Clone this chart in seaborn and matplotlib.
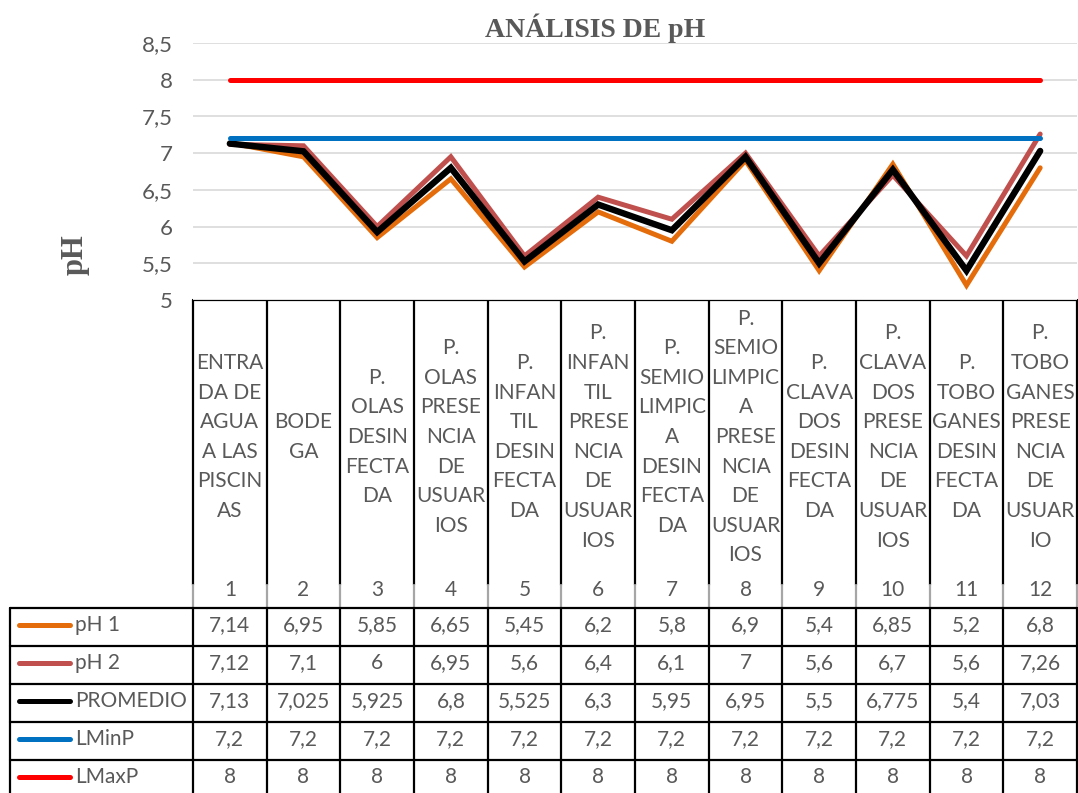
import numpy as np
import pandas as pd
import matplotlib.pyplot as plt
import seaborn as sns

# datos
categorias = ["ENTRA\nDA DE\nAGUA\nA LAS\nPISCIN\nAS", "BODE\nGA",
              "P.\nOLAS\nDESIN\nFECTA\nDA", "P.\nOLAS\nPRESE\nNCIA\nDE\nUSUAR\nIOS",
              "P.\nINFAN\nTIL\nDESIN\nFECTA\nDA", "P.\nINFAN\nTIL\nPRESE\nNCIA\nDE\nUSUAR\nIOS",
              "P.\nSEMIO\nLIMPIC\nA\nDESIN\nFECTA\nDA", "P.\nSEMIO\nLIMPIC\nA\nPRESE\nNCIA\nDE\nUSUAR\nIOS",
              "P.\nCLAVA\nDOS\nDESIN\nFECTA\nDA", "P.\nCLAVA\nDOS\nPRESE\nNCIA\nDE\nUSUAR\nIOS",
              "P.\nTOBO\nGANES\nDESIN\nFECTA\nDA", "P.\nTOBO\nGANES\nPRESE\nNCIA\nDE\nUSUAR\nIO"]
numeros = list(range(1, 13))
ph1 = [7.14, 6.95, 5.85, 6.65, 5.45, 6.2, 5.8, 6.9, 5.4, 6.85, 5.2, 6.8]
ph2 = [7.12, 7.1, 6, 6.95, 5.6, 6.4, 6.1, 7, 5.6, 6.7, 5.6, 7.26]
promedio = [7.13, 7.025, 5.925, 6.8, 5.525, 6.3, 5.95, 6.95, 5.5, 6.775, 5.4, 7.03]
lminp = [7.2] * 12
lmaxp = [8] * 12
series = ["pH 1", "pH 2", "PROMEDIO", "LMinP", "LMaxP"]
colores = {"pH 1": "#E46C0A", "pH 2": "#C0504D", "PROMEDIO": "#000000",
           "LMinP": "#0070C0", "LMaxP": "#FF0000"}
grosor = {"pH 1": 3.6, "pH 2": 3.6, "PROMEDIO": 4.6, "LMinP": 3.6, "LMaxP": 3.6}

valores = {"pH 1": ph1, "pH 2": ph2, "PROMEDIO": promedio, "LMinP": lminp, "LMaxP": lmaxp}
df = pd.concat([pd.DataFrame({"n": numeros, "pH": v, "serie": k}) for k, v in valores.items()])

gris = "#595959"
fuente = ["Lato", "DejaVu Sans"]
sns.set_theme(style="white")
plt.rcParams['font.family'] = fuente

W, H = 1078, 793
fig = plt.figure(figsize=(W / 100, H / 100), dpi=100)
x0, x1, ytop, ybot = 193, 1077, 43, 300
ax = fig.add_axes([x0 / W, 1 - ybot / H, (x1 - x0) / W, (ybot - ytop) / H])

for s in series:
    sns.lineplot(data=df[df["serie"] == s], x="n", y="pH", color=colores[s],
                 linewidth=grosor[s], ax=ax, legend=False,
                 solid_capstyle="round", solid_joinstyle="miter")

ax.set_xlim(0.5, 12.5)
ax.set_ylim(5, 8.5)
yt = np.arange(5, 8.51, 0.5)
ax.set_yticks(yt)
ax.set_yticklabels([f"{v:g}".replace(".", ",") for v in yt], color=gris, fontsize=16)
ax.tick_params(axis="y", length=0, pad=14.5)
ax.set_xticks([])
ax.set_xlabel("")
ax.set_ylabel("")
ax.grid(axis="y", color="#D9D9D9", linewidth=1.2)
for sp in ax.spines.values():
    sp.set_visible(False)

fig.text(595 / W, 1 - 28 / H, "ANÁLISIS DE pH", ha="center", va="center",
         fontsize=20, fontweight="bold", color=gris, family="Liberation Serif")
fig.text(75 / W, 1 - 255 / H, "pH", ha="center", va="center", rotation=90,
         fontsize=22, fontweight="bold", color=gris, family="Liberation Serif")

# tabla de datos en coordenadas de pixel
tab = fig.add_axes([0, 0, 1, 1], zorder=-1)
tab.set_xlim(0, W)
tab.set_ylim(H, 0)
tab.axis("off")
ancho = (x1 - x0) / 12
bordes = [x0 + ancho * k for k in range(13)]
filas = [608, 646, 684, 722, 760, 798]

for b in bordes:
    tab.plot([b, b], [ybot, 585], color="black", lw=1.6)
    tab.plot([b, b], [585, 608], color="#A6A6A6", lw=1.6)
    tab.plot([b, b], [608, H], color="black", lw=1.6)
tab.plot([x0, x1], [ybot, ybot], color="black", lw=1.6)
tab.plot([10, 10], [608, H], color="black", lw=1.6)
for f in filas:
    tab.plot([10, x1], [f, f], color="black", lw=1.6)

for i, (cat, n) in enumerate(zip(categorias, numeros)):
    cx = bordes[i] + ancho / 2
    tab.text(cx, 437, cat, ha="center", va="center", color=gris, fontsize=15,
             linespacing=1.6)
    tab.text(cx, 590, str(n), ha="center", va="center", color=gris, fontsize=15)

for r, s in enumerate(series):
    cy = (filas[r] + filas[r + 1]) / 2 - 2
    tab.plot([19, 70], [cy, cy], color=colores[s], lw=3.6, solid_capstyle="round")
    tab.text(75, cy, s, ha="left", va="center", color=gris, fontsize=15)
    for i, v in enumerate(valores[s]):
        cx = bordes[i] + ancho / 2
        tab.text(cx, cy, f"{v:g}".replace(".", ","), ha="center", va="center",
                 color=gris, fontsize=15)

plt.savefig("out.png", dpi=100)
